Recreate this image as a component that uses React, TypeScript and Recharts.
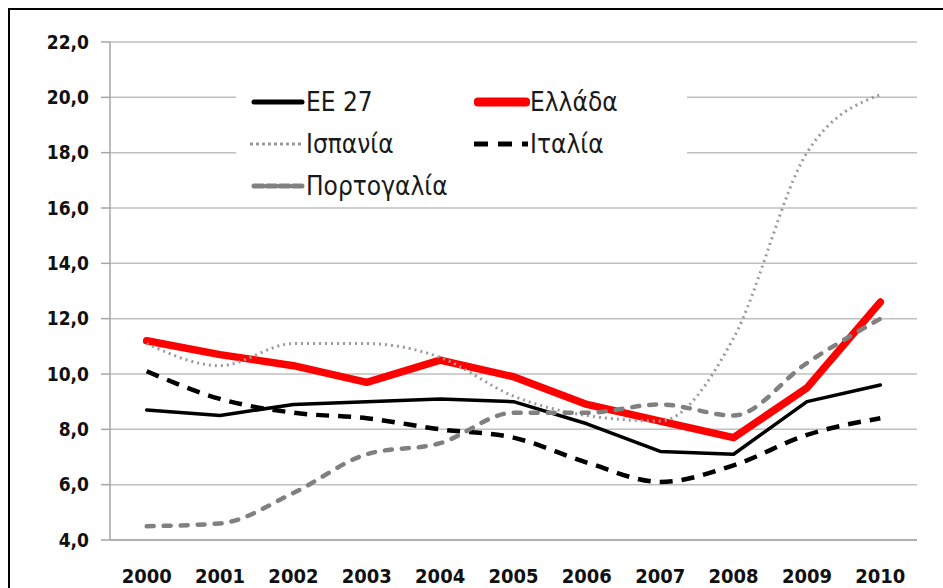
import React from 'react';
import { LineChart, Line, XAxis, YAxis, CartesianGrid } from 'recharts';

// unemployment rate (%), 2000-2010
const years = [2000, 2001, 2002, 2003, 2004, 2005, 2006, 2007, 2008, 2009, 2010];
const eu27 = [8.7, 8.5, 8.9, 9.0, 9.1, 9.0, 8.2, 7.2, 7.1, 9.0, 9.6];
const greece = [11.2, 10.7, 10.3, 9.7, 10.5, 9.9, 8.9, 8.3, 7.7, 9.5, 12.6];
const spain = [11.1, 10.3, 11.1, 11.1, 10.6, 9.2, 8.5, 8.3, 11.3, 18.0, 20.1];
const italy = [10.1, 9.1, 8.6, 8.4, 8.0, 7.7, 6.8, 6.1, 6.7, 7.8, 8.4];
const portugal = [4.5, 4.6, 5.7, 7.1, 7.5, 8.6, 8.6, 8.9, 8.5, 10.4, 12.0];
const yTicks = [4, 6, 8, 10, 12, 14, 16, 18, 20, 22];

const data = years.map((year, i) => ({
  year,
  eu27: eu27[i],
  greece: greece[i],
  spain: spain[i],
  italy: italy[i],
  portugal: portugal[i],
}));

// boundaries between the year bands, for the axis tick marks
const bounds = [...years.map((y) => y - 0.5), years[years.length - 1] + 0.5];
const xDomain = [years[0] - 0.5, years[years.length - 1] + 0.5];

const FONT = '"DejaVu Sans Condensed", "Liberation Sans", sans-serif';

const series = [
  { key: 'eu27', name: 'ΕΕ 27', color: '#000000', width: 3.5, dash: undefined, cap: 'round', type: 'linear' },
  { key: 'greece', name: 'Ελλάδα', color: '#ff0000', width: 7.5, dash: undefined, cap: 'round', type: 'linear' },
  { key: 'spain', name: 'Ισπανία', color: '#9a9a9a', width: 3, dash: '2 4', cap: 'butt', type: 'monotone' },
  { key: 'italy', name: 'Ιταλία', color: '#000000', width: 4.5, dash: '13 9', cap: 'butt', type: 'monotone' },
  { key: 'portugal', name: 'Πορτογαλία', color: '#808080', width: 4.5, dash: '7 10', cap: 'round', type: 'monotone' },
] as const;

const legendSample = {
  eu27: { width: 5, dash: undefined, cap: 'round' },
  greece: { width: 9, dash: undefined, cap: 'round' },
  spain: { width: 3, dash: '3 3', cap: 'butt' },
  italy: { width: 5, dash: '14 10', cap: 'butt' },
  portugal: { width: 5, dash: '9 4', cap: 'round' },
} as const;

const LegendBox = () => (
  <div
    style={{
      position: 'absolute',
      left: 236,
      top: 78,
      width: 451,
      height: 124,
      boxSizing: 'border-box',
      background: '#ffffff',
      display: 'grid',
      gridTemplateColumns: '224px 224px',
      gridAutoRows: '42px',
      paddingLeft: 14,
      paddingTop: 3,
      fontFamily: FONT,
      fontSize: 26,
      color: '#1a1a1a',
    }}
  >
    {series.map((s) => {
      const ls = legendSample[s.key];
      return (
        <div key={s.key} style={{ display: 'flex', alignItems: 'center' }}>
          <svg width={56} height={14} style={{ flex: 'none' }}>
            <line
              x1={ls.cap === 'round' ? 4 : 0}
              x2={ls.cap === 'round' ? 52 : 54}
              y1={7}
              y2={7}
              stroke={s.color}
              strokeWidth={ls.width}
              strokeDasharray={ls.dash}
              strokeLinecap={ls.cap}
            />
          </svg>
          <span style={{ marginLeft: 0, whiteSpace: 'nowrap' }}>{s.name}</span>
        </div>
      );
    })}
  </div>
);

export default function App() {
  return (
    <div style={{ position: 'absolute', left: 0, top: 0, width: 943, height: 588, overflow: 'hidden', background: '#fff' }}>
      <div
        style={{
          position: 'absolute',
          left: 8,
          top: 8,
          width: 1000,
          height: 700,
          borderLeft: '2.5px solid #000',
          borderTop: '2px solid #000',
        }}
      />
      <div style={{ position: 'absolute', left: 0, top: 0 }}>
        <LineChart width={943} height={588} data={data} margin={{ top: 42, right: 26, left: 0, bottom: 0 }}>
          <CartesianGrid vertical={false} stroke="#bfbfbf" strokeWidth={1.5} xAxisId="frame" />
          <XAxis
            xAxisId="frame"
            dataKey="year"
            type="number"
            domain={xDomain}
            ticks={bounds}
            interval={0}
            tick={false}
            tickSize={10}
            height={12}
            stroke="#a6a6a6"
            strokeWidth={1.5}
          />
          <XAxis
            xAxisId="labels"
            dataKey="year"
            type="number"
            domain={xDomain}
            ticks={years}
            interval={0}
            axisLine={false}
            tickLine={false}
            height={36}
            tickMargin={11}
            tick={{ fill: '#111', fontSize: 20, fontWeight: 700, fontFamily: FONT }}
          />
          <YAxis
            domain={[4, 22]}
            ticks={yTicks}
            interval={0}
            width={110}
            tickSize={9}
            tickMargin={12}
            stroke="#a6a6a6"
            strokeWidth={1.5}
            tickFormatter={(v: number) => v.toFixed(1).replace('.', ',')}
            tick={{ fill: '#111', fontSize: 19, fontWeight: 700, fontFamily: FONT }}
          />
          {series.map((s) => (
            <Line
              key={s.key}
              xAxisId="frame"
              type={s.type}
              dataKey={s.key}
              name={s.name}
              stroke={s.color}
              strokeWidth={s.width}
              strokeDasharray={s.dash}
              strokeLinecap={s.cap}
              strokeLinejoin="round"
              dot={false}
              activeDot={false}
              isAnimationActive={false}
            />
          ))}
        </LineChart>
      </div>
      <LegendBox />
    </div>
  );
}
